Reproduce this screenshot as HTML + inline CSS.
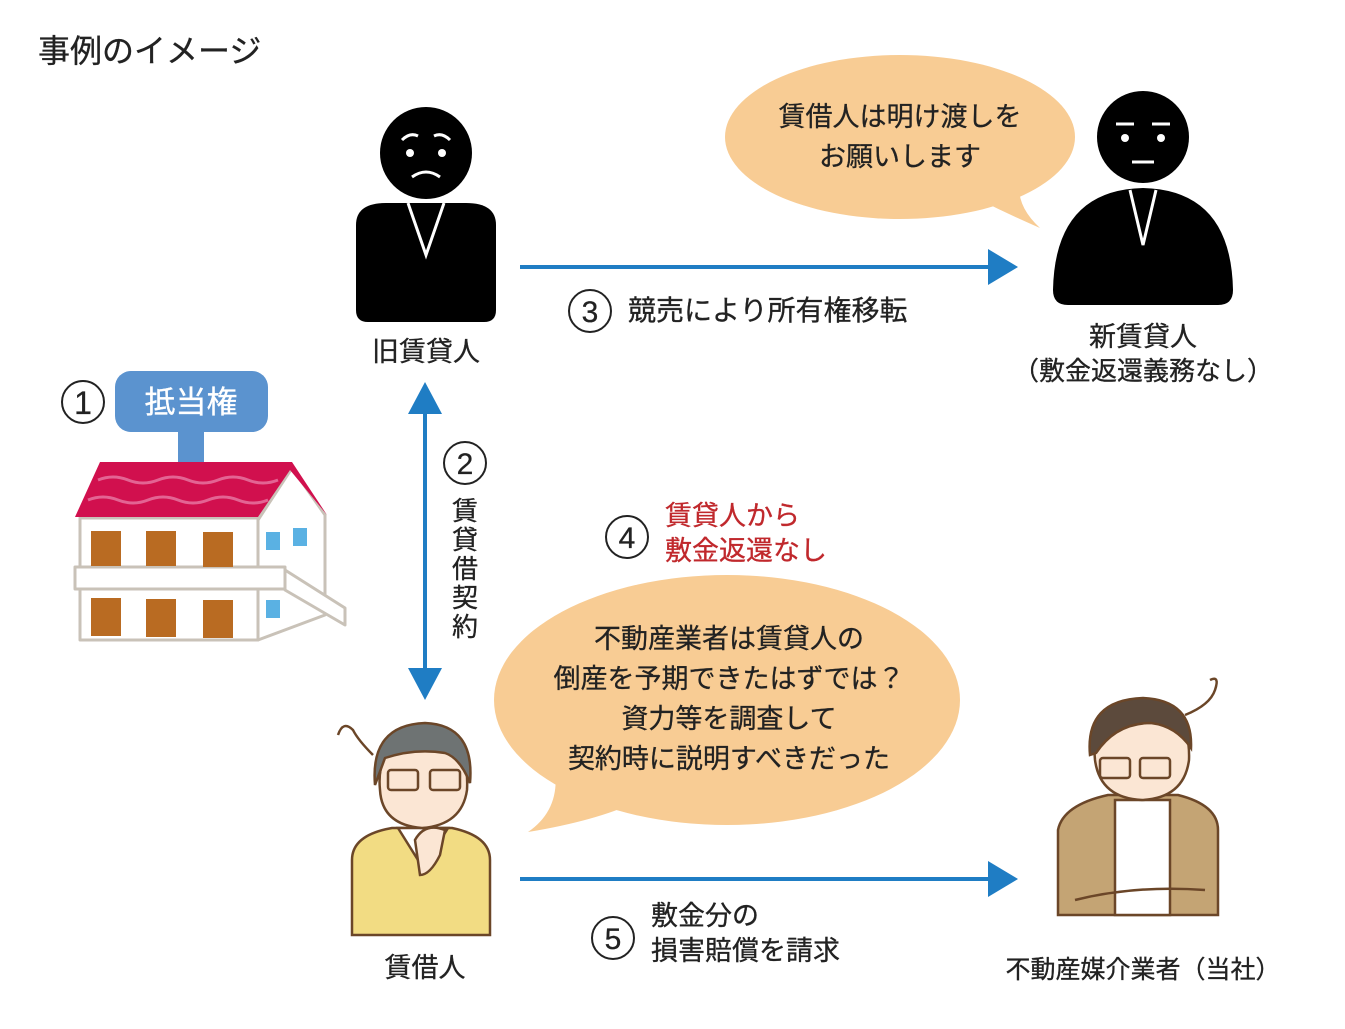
<!DOCTYPE html>
<html><head><meta charset="utf-8"><style>
html,body{margin:0;padding:0;background:#fff;}
svg{display:block;}
text{font-family:"Liberation Sans","Noto Sans CJK JP",sans-serif;fill:#222;stroke:#222;stroke-width:0.3;}
</style></head><body>
<svg width="1345" height="1029" viewBox="0 0 1345 1029" xmlns="http://www.w3.org/2000/svg">
<text x="38" y="62" font-size="32">事例のイメージ</text>

<!-- Old landlord -->
<circle cx="426" cy="153" r="46" fill="#000"/>
<path d="M402,140 q8,-8 16,-4 M434,136 q8,-4 16,4" stroke="#fff" stroke-width="3" fill="none"/>
<circle cx="410" cy="153" r="4" fill="#fff"/><circle cx="442" cy="153" r="4" fill="#fff"/>
<path d="M412,177 q14,-10 28,0" stroke="#fff" stroke-width="3" fill="none"/>
<path d="M356,225 q0,-22 30,-22 h80 q30,0 30,22 v85 q0,12 -12,12 h-116 q-12,0 -12,-12 z" fill="#000"/>
<path d="M408,203 l18,52 l18,-52" stroke="#fff" stroke-width="3" fill="none"/>
<text x="426" y="361" font-size="27" text-anchor="middle">旧賃貸人</text>

<!-- arrow 3 -->
<line x1="520" y1="267" x2="1000" y2="267" stroke="#1f7dc4" stroke-width="4"/>
<path d="M988,249 L1018,267 L988,285 z" fill="#1f7dc4"/>
<circle cx="590" cy="311" r="21" fill="none" stroke="#222" stroke-width="2"/>
<text x="590" y="322" font-size="30" text-anchor="middle">3</text>
<text x="628" y="320" font-size="28">競売により所有権移転</text>

<!-- top bubble -->
<ellipse cx="900" cy="137" rx="175" ry="82" fill="#f8cc94"/>
<path d="M980,200 Q1010,215 1040,228 Q1015,205 1020,180 z" fill="#f8cc94"/>
<text x="900" y="126" font-size="27" text-anchor="middle">賃借人は明け渡しを</text>
<text x="900" y="166" font-size="27" text-anchor="middle">お願いします</text>

<!-- New landlord -->
<circle cx="1143" cy="137" r="46" fill="#000"/>
<path d="M1116,124 h18 M1152,124 h18" stroke="#fff" stroke-width="3"/>
<circle cx="1125" cy="138" r="4" fill="#fff"/><circle cx="1161" cy="138" r="4" fill="#fff"/>
<path d="M1132,162 h22" stroke="#fff" stroke-width="3"/>
<path d="M1053,290 Q1055,190 1143,188 Q1231,190 1233,290 q0,15 -15,15 h-150 q-15,0 -15,-15 z" fill="#000"/>
<path d="M1130,190 l13,55 l13,-55" stroke="#fff" stroke-width="3" fill="none"/>
<text x="1143" y="346" font-size="27" text-anchor="middle">新賃貸人</text>
<text x="1143" y="380" font-size="26" text-anchor="middle">（敷金返還義務なし）</text>

<!-- sign and house -->
<circle cx="83" cy="402" r="21" fill="none" stroke="#222" stroke-width="2"/>
<text x="83" y="414" font-size="32" text-anchor="middle">1</text>
<rect x="178" y="428" width="26" height="40" fill="#5b93cf"/>
<rect x="115" y="371" width="153" height="61" rx="16" fill="#5b93cf"/>
<text x="191" y="413" font-size="31" text-anchor="middle" style="fill:#fff;stroke:#fff">抵当権</text>
<g stroke="#c9c2b8" stroke-width="3" stroke-linejoin="round">
<path d="M258,520 L292,468 L325,515 V615 L258,640 z" fill="#fff"/>
<rect x="80" y="518" width="178" height="122" fill="#fff"/>
<rect x="75" y="567" width="210" height="22" fill="#fff"/>
<path d="M285,570 L345,608 V625 L285,590 z" fill="#fff"/>
</g>
<path d="M75,517 L100,462 L292,462 L327,515 L290,470 L258,517 z" fill="#d1104e"/>
<path d="M98,480 q15,-6 30,0 t30,0 t30,0 t30,0 t30,0 t30,0 M88,500 q15,-6 30,0 t30,0 t30,0 t30,0 t30,0 t30,0" stroke="#e36493" stroke-width="3" fill="none"/>
<g fill="#b96b22"><rect x="91" y="531" width="30" height="35"/><rect x="146" y="531" width="30" height="35"/><rect x="203" y="532" width="30" height="35"/>
<rect x="91" y="598" width="30" height="38"/><rect x="146" y="599" width="30" height="38"/><rect x="203" y="600" width="30" height="38"/></g>
<g fill="#5ab1e3"><rect x="266" y="532" width="14" height="18"/><rect x="293" y="528" width="14" height="18"/><rect x="266" y="600" width="14" height="18"/></g>

<!-- vertical arrow 2 -->
<line x1="425" y1="400" x2="425" y2="685" stroke="#1f7dc4" stroke-width="4"/>
<path d="M408,414 L425,382 L442,414 z" fill="#1f7dc4"/>
<path d="M408,668 L425,700 L442,668 z" fill="#1f7dc4"/>
<circle cx="465" cy="463" r="21" fill="none" stroke="#222" stroke-width="2"/>
<text x="465" y="474" font-size="30" text-anchor="middle">2</text>
<g font-size="26" text-anchor="middle">
<text x="465" y="520">賃</text><text x="465" y="549">貸</text><text x="465" y="578">借</text><text x="465" y="607">契</text><text x="465" y="636">約</text>
</g>

<!-- 4 -->
<circle cx="627" cy="537" r="21" fill="none" stroke="#222" stroke-width="2"/>
<text x="627" y="548" font-size="30" text-anchor="middle">4</text>
<text x="665" y="525" font-size="27" style="fill:#c0282c;stroke:#c0282c">賃貸人から</text>
<text x="665" y="560" font-size="27" style="fill:#c0282c;stroke:#c0282c">敷金返還なし</text>

<!-- bottom bubble -->
<ellipse cx="727" cy="700" rx="233" ry="125" fill="#f8cc94"/>
<path d="M555,770 Q560,810 528,832 Q600,820 640,800 z" fill="#f8cc94"/>
<text x="729" y="648" font-size="27" text-anchor="middle">不動産業者は賃貸人の</text>
<text x="729" y="688" font-size="27" text-anchor="middle">倒産を予期できたはずでは？</text>
<text x="729" y="728" font-size="27" text-anchor="middle">資力等を調査して</text>
<text x="729" y="768" font-size="27" text-anchor="middle">契約時に説明すべきだった</text>

<!-- tenant -->
<g stroke="#6b4628" stroke-width="2.5">
<path d="M352,935 V860 q0,-25 40,-32 h60 q38,8 38,32 V935 z" fill="#f2dc83"/>
<path d="M398,828 l25,40 l25,-40 z" fill="#fff"/>
<path d="M380,790 q-5,-50 45,-55 q45,0 42,55 q-5,35 -45,38 q-40,-3 -42,-38z" fill="#fbe6d4"/>
<path d="M375,785 q-5,-60 50,-62 q50,2 45,60 q-10,-25 -25,-30 q-30,-5 -60,5 z" fill="#6e7373"/>
<rect x="388" y="770" width="30" height="20" rx="3" fill="none"/><rect x="430" y="770" width="30" height="20" rx="3" fill="none"/>
<path d="M338,735 q5,-15 15,-5 q5,10 20,25" fill="none"/>
<path d="M415,840 q10,-18 30,-10 l-5,25 q-10,20 -20,20 z" fill="#fbe6d4"/>
</g>
<text x="425" y="977" font-size="27" text-anchor="middle">賃借人</text>

<!-- arrow 5 -->
<line x1="520" y1="879" x2="1000" y2="879" stroke="#1f7dc4" stroke-width="4"/>
<path d="M988,861 L1018,879 L988,897 z" fill="#1f7dc4"/>
<circle cx="613" cy="938" r="21" fill="none" stroke="#222" stroke-width="2"/>
<text x="613" y="949" font-size="30" text-anchor="middle">5</text>
<text x="651" y="925" font-size="27">敷金分の</text>
<text x="651" y="960" font-size="27">損害賠償を請求</text>

<!-- broker -->
<g stroke="#6b4628" stroke-width="2.5">
<path d="M1058,915 V830 q5,-25 50,-35 h70 q40,10 40,35 V915 z" fill="#c4a474"/>
<path d="M1115,800 h55 v115 h-55 z" fill="#fff"/>
<path d="M1095,760 q-5,-50 48,-55 q48,0 46,55 q-5,38 -47,40 q-42,-2 -47,-40z" fill="#fbe6d4"/>
<path d="M1090,755 q-5,-55 53,-57 q50,2 48,50 q-15,-22 -40,-25 q-35,0 -55,30 z" fill="#5c4a3c"/>
<rect x="1100" y="758" width="30" height="20" rx="3" fill="none"/><rect x="1140" y="758" width="30" height="20" rx="3" fill="none"/>
<path d="M1075,900 q60,-15 130,-10" fill="none"/>
<path d="M1185,715 q25,-10 30,-25 q5,-15 -5,-10" fill="none"/>
</g>
<text x="1143" y="978" font-size="25" text-anchor="middle">不動産媒介業者（当社）</text>
</svg>
</body></html>
